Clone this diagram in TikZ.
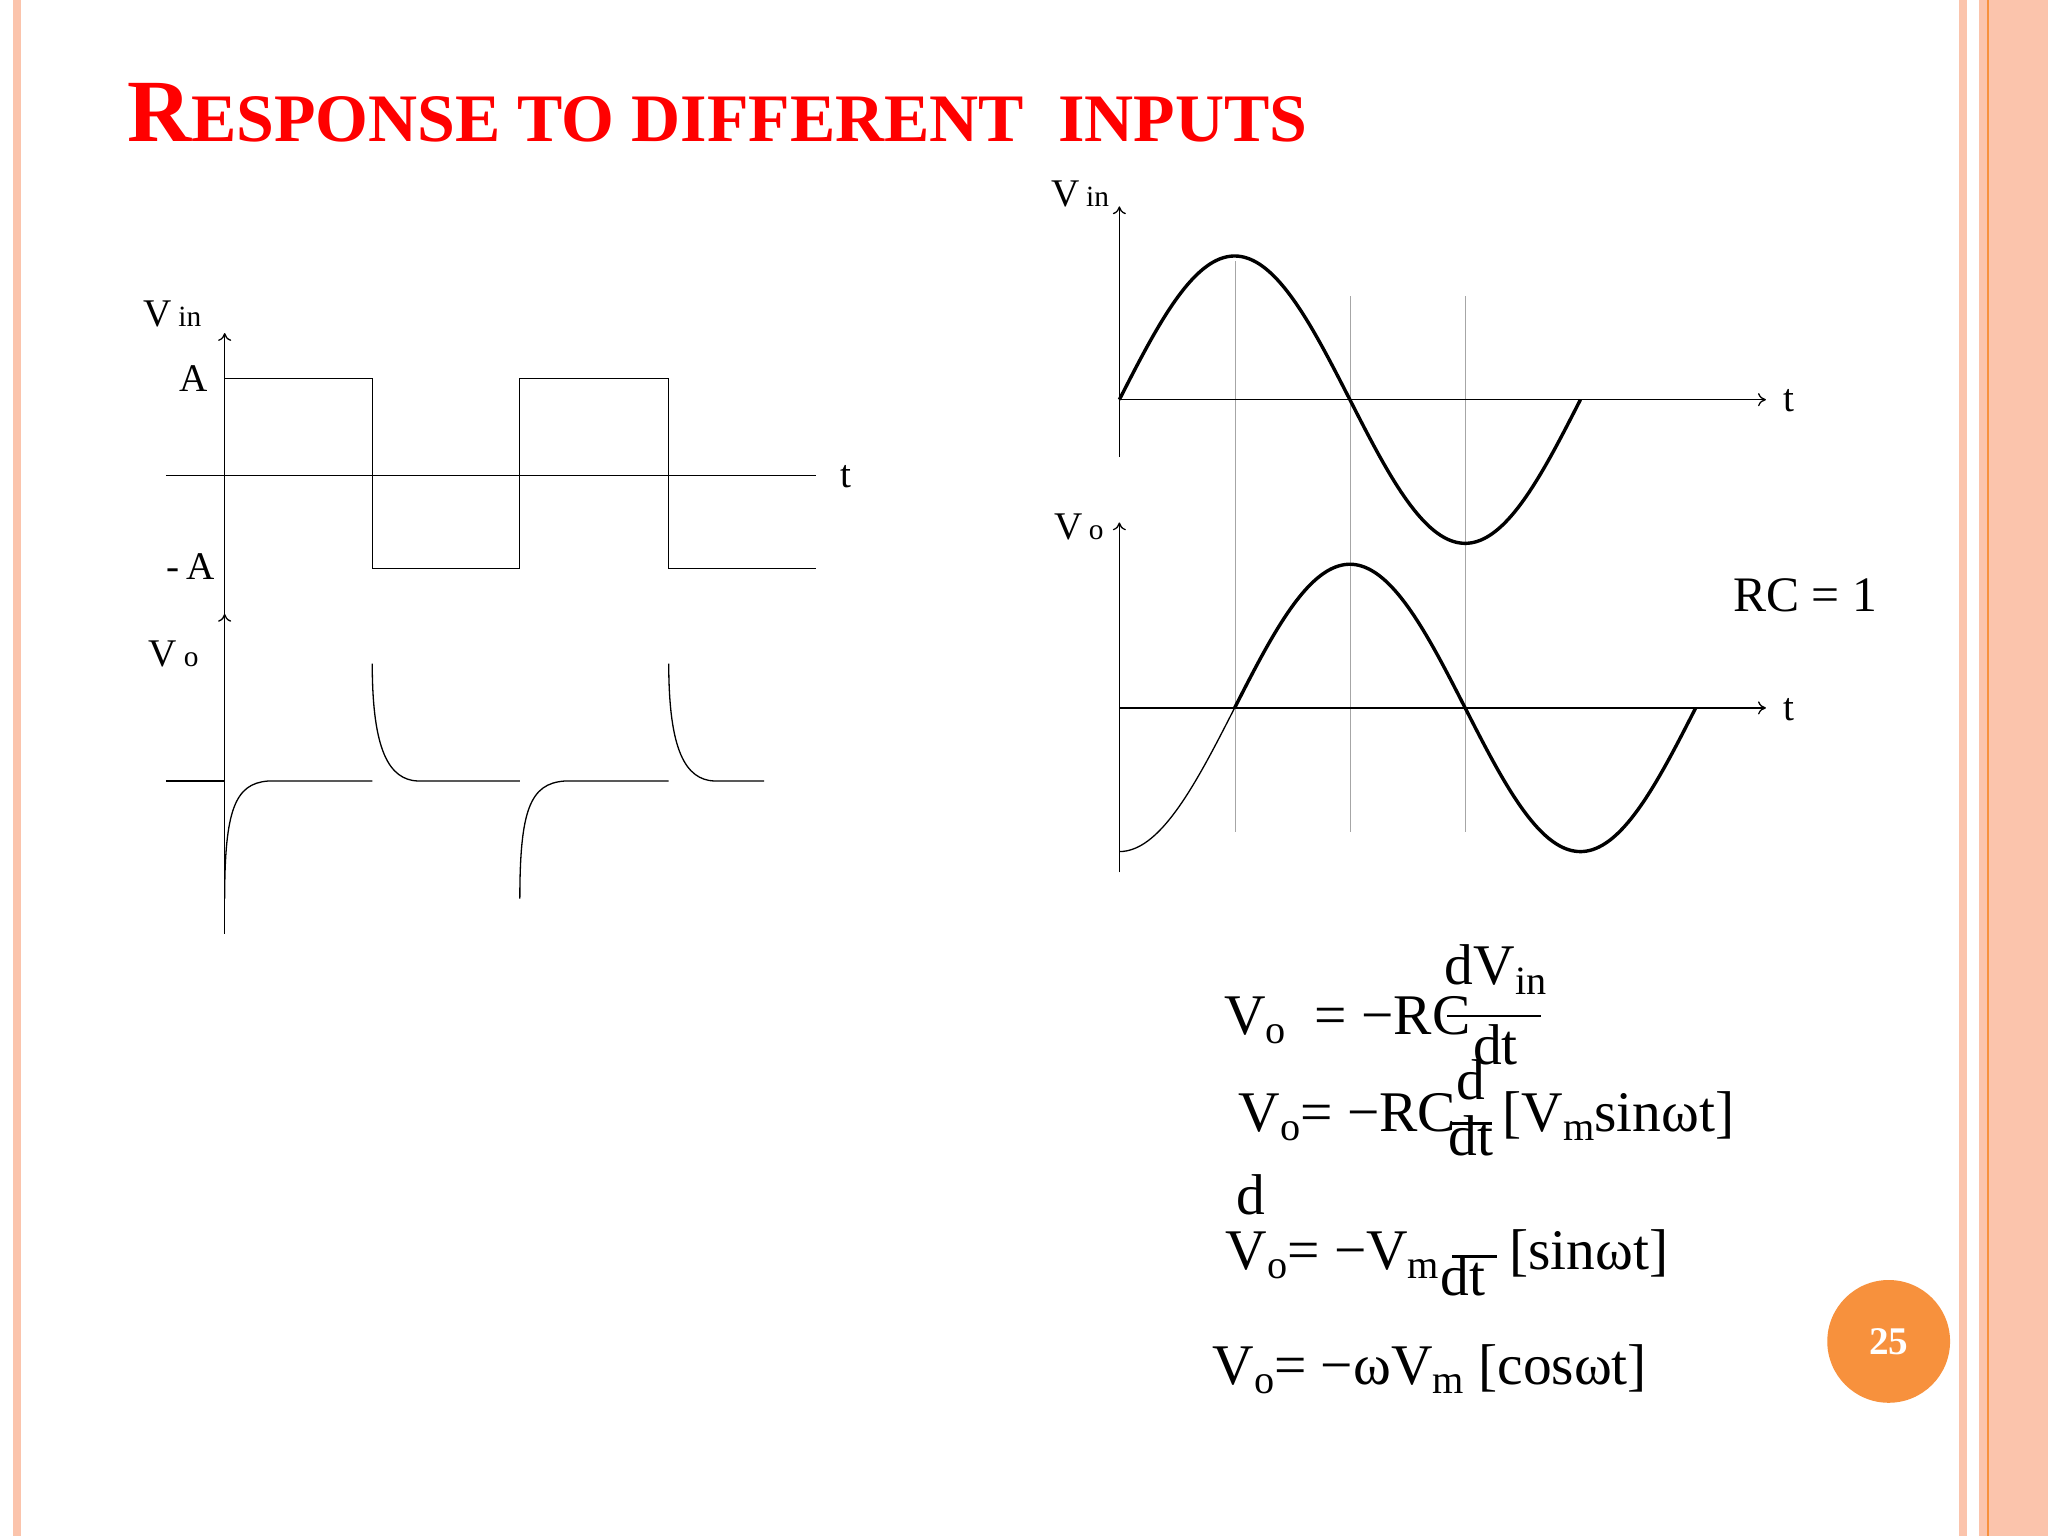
\documentclass[tikz,border=0pt]{standalone}
\usepackage{fontspec}
\usetikzlibrary{arrows.meta}
\setmainfont{Liberation Serif}
\newcommand{\sbs}[1]{\raisebox{-0.35ex}{\scalebox{0.7}{#1}}}
\definecolor{salmon}{HTML}{FBC4AC}
\definecolor{orng}{HTML}{F7913D}
\begin{document}
\begin{tikzpicture}[x=0.5pt,y=-0.5pt,
  ax/.style={line width=0.5pt,-{To[length=3pt,width=5pt]}},
  thinl/.style={line width=0.5pt},
  thick/.style={line width=1.3pt},
  grid/.style={line width=0.5pt,gray!70},
  lab/.style={font=\fontsize{15}{15}\selectfont,inner sep=0},
  eq/.style={font=\fontsize{22}{22}\selectfont,inner sep=0}]
\useasboundingbox (0,0) rectangle (1568,1176);
\fill[white] (0,0) rectangle (1568,1176);
% borders
\fill[salmon] (10,0) rectangle (16,1176);
\fill[salmon] (1500,0) rectangle (1506,1176);
\fill[salmon] (1515,0) rectangle (1568,1176);
\draw[orng,line width=0.8pt] (1522,0) -- (1522,1176);
% title
\node[anchor=base west,inner sep=0,text=red,font=\bfseries] (title) at (97,108)
 {\fontsize{34}{34}\selectfont R\fontsize{26}{26}\selectfont ESPONSE TO DIFFERENT\ \ INPUTS};
% page number
\node[circle,fill=orng,minimum size=47pt,inner sep=0,text=white,font=\bfseries\fontsize{15}{15}\selectfont] (pg) at (1446,1027) {25};
% ---- square wave ----
\coordinate (ya) at (172,715); \coordinate (yt) at (172,255);
\draw[ax] (ya) -- (yt);
\draw[ax] (172,600) -- (172,470);
\draw[thinl] (127,364) -- (625,364);
\draw[thinl] (172,290) -- (285,290) -- (285,435) -- (398,435) -- (398,290) -- (512,290) -- (512,435) -- (625,435);
\node[lab,anchor=base] (vin1) at (132,250) {V\,\scalebox{0.75}{in}};
\node[lab,anchor=base] (A) at (148,300) {A};
\node[lab,anchor=base] (t1) at (648,373) {t};
\node[lab,anchor=base] (mA) at (146,444) {-\,A};
\node[lab,anchor=base] (vo1) at (133,510) {V\,\scalebox{0.75}{o}};
\draw[thinl] (127,598) -- (172,598);
\draw[thinl] (172,688) .. controls (172,620) and (180,600) .. (205,598) -- (285,598);
\draw[thinl] (285,508) .. controls (285,575) and (298,597) .. (320,598) -- (398,598);
\draw[thinl] (398,688) .. controls (398,620) and (406,600) .. (432,598) -- (512,598);
\draw[thinl] (512,508) .. controls (512,575) and (525,597) .. (547,598) -- (585,598);
% ---- sine ----
\draw[grid] (946,200) -- (946,637);
\draw[grid] (1034,227) -- (1034,637);
\draw[grid] (1122,227) -- (1122,637);
\draw[ax] (857,350) -- (857,158);
\draw[ax] (857,306) -- (1352,306);
\draw[thick] plot[domain=0:360,samples=90,smooth] ({857+0.98056*\x},{306-110*sin(\x)});
\draw[ax] (857,668) -- (857,400);
\draw[ax] (857,542) -- (1352,542);
\draw[thinl] plot[domain=0:90,samples=30,smooth] ({857+0.98056*\x},{542+110*cos(\x)});
\draw[thick] plot[domain=90:450,samples=90,smooth] ({857+0.98056*\x},{542+110*cos(\x)});
\node[lab,anchor=base] (vin2) at (827,158) {V\,\scalebox{0.75}{in}};
\node[lab,anchor=base] (t2) at (1370,315) {t};
\node[lab,anchor=base] (vo2) at (826,413) {V\,\scalebox{0.75}{o}};
\node[lab,anchor=base] (t3) at (1370,552) {t};
\node[anchor=base,inner sep=0,font=\fontsize{19}{19}\selectfont] (rc) at (1382,468) {RC = 1};
% ---- equations ----
\node[eq,anchor=base west] (e1) at (937,792) {V\sbs{o}\ \ = −RC};
\node[eq,anchor=base] (e1n) at (1145,754) {dV\sbs{in}};
\draw[line width=1pt] (1108,778) -- (1180,778);
\node[eq,anchor=base] (e1d) at (1145,815) {dt};
\node[eq,anchor=base west] (e2) at (948,866) {V\sbs{o}= −RC};
\node[eq,anchor=base] (e2n) at (1126,842) {d};
\draw[line width=1pt] (1112,860) -- (1142,860);
\node[eq,anchor=base] (e2d) at (1126,885) {dt};
\node[eq,anchor=base west] (e2r) at (1150,866) {[V\sbs{m}sinωt]};
\node[eq,anchor=base] (e3n) at (958,930) {d};
\node[eq,anchor=base west] (e3) at (938,972) {V\sbs{o}= −V\sbs{m}};
\draw[line width=1pt] (1112,962) -- (1146,962);
\node[eq,anchor=base] (e3d) at (1120,992) {dt};
\node[eq,anchor=base west] (e3r) at (1155,972) {[sinωt]};
\node[eq,anchor=base west] (e4) at (928,1060) {V\sbs{o}= −ωV\sbs{m} [cosωt]};
\end{tikzpicture}
\end{document}
